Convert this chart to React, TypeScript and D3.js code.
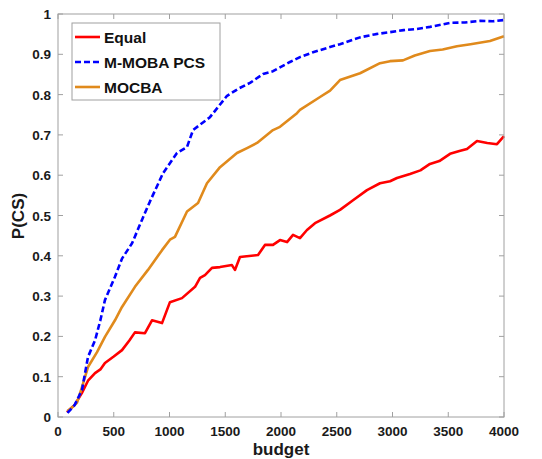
import React from "react";
import * as d3 from "d3";

const xTicks = [0, 500, 1000, 1500, 2000, 2500, 3000, 3500, 4000];
const yTicks = [0, 0.1, 0.2, 0.3, 0.4, 0.5, 0.6, 0.7, 0.8, 0.9, 1];

const equalX = [80, 150, 215, 269, 332, 380, 421, 500, 574, 640, 690, 780, 843, 933, 1004, 1112, 1229, 1274, 1318, 1381, 1453, 1560, 1587, 1632, 1794, 1856, 1928, 1991, 2054, 2108, 2170, 2233, 2305, 2439, 2529, 2646, 2771, 2888, 2978, 3040, 3157, 3250, 3336, 3420, 3516, 3600, 3668, 3758, 3850, 3937, 4000];
const equalY = [0.012, 0.03, 0.06, 0.09, 0.109, 0.118, 0.134, 0.15, 0.166, 0.19, 0.21, 0.208, 0.24, 0.233, 0.285, 0.295, 0.323, 0.345, 0.352, 0.37, 0.372, 0.377, 0.365, 0.397, 0.402, 0.427, 0.427, 0.439, 0.434, 0.452, 0.444, 0.464, 0.481, 0.5, 0.514, 0.538, 0.563, 0.58, 0.585, 0.593, 0.603, 0.612, 0.628, 0.635, 0.653, 0.66, 0.665, 0.685, 0.68, 0.677, 0.697];

const mobaX = [85, 150, 215, 269, 332, 380, 421, 511, 574, 664, 753, 825, 942, 1067, 1157, 1211, 1363, 1516, 1620, 1722, 1839, 1928, 2081, 2170, 2287, 2439, 2529, 2709, 2850, 2978, 3100, 3220, 3336, 3516, 3650, 3785, 3900, 4000];
const mobaY = [0.01, 0.03, 0.067, 0.149, 0.19, 0.24, 0.29, 0.348, 0.393, 0.431, 0.489, 0.535, 0.605, 0.655, 0.67, 0.712, 0.744, 0.797, 0.815, 0.829, 0.851, 0.858, 0.881, 0.893, 0.905, 0.918, 0.925, 0.942, 0.95, 0.955, 0.96, 0.963, 0.968, 0.978, 0.979, 0.983, 0.982, 0.985];

const mocbaX = [85, 130, 170, 215, 269, 350, 421, 511, 574, 690, 807, 933, 1004, 1049, 1157, 1256, 1336, 1453, 1605, 1700, 1785, 1928, 1991, 2143, 2170, 2350, 2440, 2529, 2709, 2888, 2978, 3094, 3200, 3336, 3450, 3578, 3700, 3874, 4000];
const mocbaY = [0.015, 0.025, 0.035, 0.074, 0.124, 0.161, 0.199, 0.24, 0.273, 0.323, 0.365, 0.414, 0.44, 0.447, 0.51, 0.531, 0.58, 0.62, 0.655, 0.668, 0.68, 0.712, 0.72, 0.754, 0.762, 0.794, 0.81, 0.836, 0.853, 0.878, 0.883, 0.885, 0.897, 0.908, 0.912, 0.92, 0.925, 0.933, 0.945];

const seriesNames = ["Equal", "M-MOBA PCS", "MOCBA"];
const seriesColors = ["#ff0000", "#0000ff", "#e08a1c"];

export default function App() {
  const W = 542, H = 459;
  const x = d3.scaleLinear().domain([0, 4000]).range([58, 504]);
  const y = d3.scaleLinear().domain([0, 1]).range([417, 14]);
  const line = d3.line<[number, number]>().x(d => x(d[0])).y(d => y(d[1]));
  const series = [
    { name: seriesNames[0], color: seriesColors[0], pts: equalX.map((v, i) => [v, equalY[i]] as [number, number]), dash: undefined },
    { name: seriesNames[2], color: seriesColors[2], pts: mocbaX.map((v, i) => [v, mocbaY[i]] as [number, number]), dash: undefined },
    { name: seriesNames[1], color: seriesColors[1], pts: mobaX.map((v, i) => [v, mobaY[i]] as [number, number]), dash: "6 3" },
  ];
  const font = "Liberation Sans, Arial, Helvetica, sans-serif";
  const axisColor = "#a0a0a0";
  return (
    <svg width={W} height={H} style={{ position: "absolute", left: 0, top: 0, background: "#fff" }} fontFamily={font}>
      <rect x={0} y={0} width={W} height={H} fill="#fff" />
      {series.map(s => (
        <path key={s.name} d={line(s.pts) || ""} fill="none" stroke={s.color} strokeWidth={2.6} strokeDasharray={s.dash} strokeLinejoin="round" />
      ))}
      <rect x={58} y={14} width={446} height={403} fill="none" stroke={axisColor} strokeWidth={1} />
      {xTicks.map(t => (
        <g key={"x" + t}>
          <line x1={x(t)} x2={x(t)} y1={417} y2={412} stroke={axisColor} />
          <line x1={x(t)} x2={x(t)} y1={14} y2={19} stroke={axisColor} />
          <text x={x(t)} y={436} textAnchor="middle" fontSize={13.5} fontWeight="bold" fill="#1a1a1a">{t}</text>
        </g>
      ))}
      {yTicks.map(t => (
        <g key={"y" + t}>
          <line x1={58} x2={63} y1={y(t)} y2={y(t)} stroke={axisColor} />
          <line x1={504} x2={499} y1={y(t)} y2={y(t)} stroke={axisColor} />
          <text x={51} y={y(t) + 5} textAnchor="end" fontSize={13.5} fontWeight="bold" fill="#1a1a1a">{t === 0 || t === 1 ? String(t) : t.toFixed(1)}</text>
        </g>
      ))}
      <text x={281} y={455} textAnchor="middle" fontSize={17} fontWeight="bold" fill="#1a1a1a">budget</text>
      <text transform="translate(24,216) rotate(-90)" textAnchor="middle" fontSize={17} fontWeight="bold" fill="#1a1a1a">P(CS)</text>
      <rect x={72} y={23} width={148} height={77} fill="#fff" stroke={axisColor} />
      {[0, 1, 2].map(i => (
        <g key={"lg" + i}>
          <line x1={75} x2={100} y1={37 + i * 25} y2={37 + i * 25} stroke={seriesColors[i]} strokeWidth={2.6} strokeDasharray={i === 1 ? "6 3" : undefined} />
          <text x={104} y={42.5 + i * 25} fontSize={15.5} fontWeight="bold" fill="#111">{seriesNames[i]}</text>
        </g>
      ))}
    </svg>
  );
}
